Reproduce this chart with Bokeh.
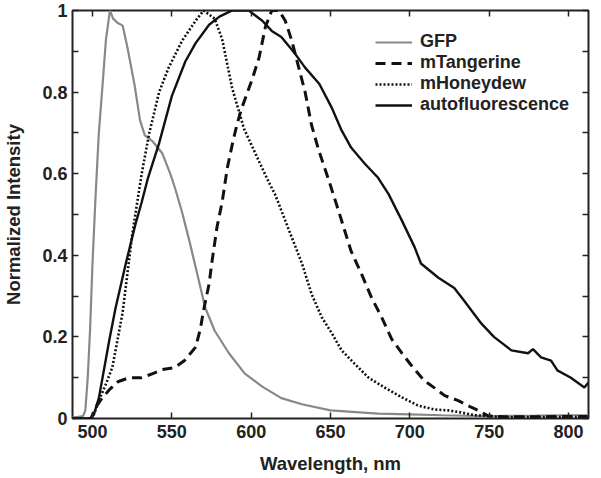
from bokeh.plotting import figure
from bokeh.models import (FixedTicker, CustomJSTickFormatter, LinearAxis, Legend,
                          LegendItem, Range1d)
from bokeh.embed import file_html
from bokeh.resources import INLINE

# ---------------- data ----------------
wl_gfp = [487, 491, 494, 495.5, 497, 498.5, 500, 502, 504, 506, 508.5, 511, 513,
          515.7, 519, 522, 526.4, 530, 533, 537.7, 544, 549, 552, 556.5, 561, 566,
          571, 577, 586, 596, 607, 619, 632, 650, 680, 700, 720, 750, 780, 800, 812]
gfp = [0.003, 0.004, 0.006, 0.02, 0.1, 0.22, 0.38, 0.55, 0.70, 0.80, 0.93, 1.0, 0.98,
       0.97, 0.963, 0.91, 0.82, 0.73, 0.694, 0.68, 0.65, 0.60, 0.565, 0.505, 0.436,
       0.355, 0.272, 0.215, 0.16, 0.11, 0.078, 0.05, 0.035, 0.02, 0.012, 0.01,
       0.008, 0.006, 0.007, 0.008, 0.008]

wl_tan = [487, 499, 502, 506, 510.5, 516, 523, 531, 538, 544, 552, 558, 565, 568, 570,
          573.5, 575.4, 578.5, 581.7, 585, 588, 591, 594, 600.5, 605, 609, 613, 617.5,
          621.5, 625.6, 630, 634, 638, 642.6, 649, 655, 663, 670, 676, 682, 688.5, 695,
          701, 709, 715.5, 722, 730.5, 739, 743, 749, 760, 780, 800, 812]
tangerine = [0, 0, 0.027, 0.05, 0.07, 0.09, 0.10, 0.10, 0.11, 0.12, 0.125, 0.142,
             0.175, 0.22, 0.265, 0.33, 0.387, 0.47, 0.53, 0.615, 0.67, 0.72, 0.76, 0.83,
             0.885, 0.96, 1.0, 1.0, 0.975, 0.926, 0.86, 0.80, 0.72, 0.657, 0.583, 0.51,
             0.41, 0.35, 0.295, 0.25, 0.195, 0.16, 0.13, 0.093, 0.075, 0.056, 0.044,
             0.027, 0.02, 0.007, 0.004, 0.004, 0.005, 0.005]

wl_hon = [487, 500, 504, 508, 512.5, 519, 525, 531, 535.8, 542, 548, 556.5, 565, 570,
          577, 581.7, 588, 595.5, 605, 611, 615, 624, 632, 638, 644.5, 651, 657, 665,
          674, 684, 695, 705, 715.5, 724, 732, 741, 760, 800, 812]
honeydew = [0, 0, 0.044, 0.08, 0.125, 0.26, 0.45, 0.60, 0.70, 0.80, 0.86, 0.926, 0.975,
            1.0, 0.98, 0.93, 0.81, 0.71, 0.63, 0.58, 0.55, 0.46, 0.38, 0.306, 0.248,
            0.208, 0.167, 0.135, 0.10, 0.076, 0.052, 0.032, 0.022, 0.02, 0.015, 0.008,
            0.003, 0.004, 0.004]

wl_auto = [487, 499, 501, 504, 510.5, 514.5, 521, 527, 531, 535, 542, 550, 558.5, 565,
           573.5, 580, 588, 598.5, 607, 613, 619, 627.5, 634, 643, 651, 657, 663, 671.5,
           680, 686.6, 695, 703, 707, 718, 728, 734, 745, 753, 764, 774.5, 777.6, 782.7,
           789, 793, 801.5, 810, 812.6]
autofl = [0, 0, 0.012, 0.05, 0.19, 0.27, 0.38, 0.475, 0.53, 0.59, 0.675, 0.79, 0.875,
          0.92, 0.965, 0.985, 1.0, 1.0, 0.975, 0.95, 0.935, 0.895, 0.86, 0.82, 0.76,
          0.706, 0.664, 0.625, 0.59, 0.55, 0.485, 0.42, 0.38, 0.345, 0.32, 0.29, 0.233,
          0.2, 0.167, 0.16, 0.17, 0.15, 0.142, 0.118, 0.10, 0.076, 0.088]

x_ticks = [500, 550, 600, 650, 700, 750, 800]
y_ticks = [0, 0.2, 0.4, 0.6, 0.8, 1.0]
y_minor = [0.1, 0.3, 0.5, 0.7, 0.9]
labels = ["GFP", "mTangerine", "mHoneydew", "autofluorescence"]

# ---------------- figure ----------------
FONT = "Liberation Sans"
TXT = "#222222"
p = figure(width=593, height=478, output_backend="svg", toolbar_location=None,
           x_range=Range1d(487.4, 812.6), y_range=Range1d(0, 1.0),
           min_border_left=70, min_border_right=5, min_border_top=10,
           min_border_bottom=60, x_axis_label="Wavelength, nm",
           y_axis_label="Normalized Intensity")
p.grid.visible = False
p.background_fill_color = "white"
p.border_fill_color = "white"
p.outline_line_color = "#222222"
p.outline_line_width = 2

fmt = CustomJSTickFormatter(code="return tick.toFixed(1).replace(/\\.0$/, '');")
blank = CustomJSTickFormatter(code="return '';")

for ax in p.xaxis:
    ax.ticker = FixedTicker(ticks=x_ticks)
for ax in p.yaxis:
    ax.ticker = FixedTicker(ticks=y_ticks, minor_ticks=y_minor)
    ax.formatter = fmt

for ax in list(p.xaxis) + list(p.yaxis):
    ax.axis_line_color = None
    ax.major_tick_in = 6
    ax.major_tick_out = 0
    ax.minor_tick_in = 6
    ax.minor_tick_out = 0
    ax.major_tick_line_color = "#222222"
    ax.major_tick_line_width = 1.5
    ax.minor_tick_line_color = "#222222"
    ax.minor_tick_line_width = 1.5
    ax.major_label_text_font = FONT
    ax.major_label_text_font_style = "bold"
    ax.major_label_text_font_size = "18px"
    ax.major_label_text_color = TXT
    ax.axis_label_text_font = FONT
    ax.axis_label_text_font_style = "bold"
    ax.axis_label_text_font_size = "18.5px"
    ax.axis_label_text_color = TXT
p.xaxis.minor_tick_line_color = None
p.xaxis.major_label_standoff = 6
p.xaxis.axis_label_standoff = 12
p.yaxis.major_label_standoff = 5
p.yaxis.axis_label_standoff = 15

# mirrored ticks on top and right
top = LinearAxis(ticker=FixedTicker(ticks=x_ticks), formatter=blank,
                 axis_line_color=None, major_tick_in=6, major_tick_out=0,
                 minor_tick_line_color=None,
                 major_tick_line_color="#222222", major_tick_line_width=1.5,
                 major_label_standoff=0)
right = LinearAxis(ticker=FixedTicker(ticks=y_ticks, minor_ticks=y_minor),
                   formatter=blank, axis_line_color=None, major_tick_in=6,
                   major_tick_out=0, minor_tick_in=6, minor_tick_out=0,
                   major_tick_line_color="#222222", major_tick_line_width=1.5,
                   minor_tick_line_color="#222222", minor_tick_line_width=1.5,
                   major_label_standoff=0)
p.add_layout(top, "above")
p.add_layout(right, "right")

r_gfp = p.line(wl_gfp, gfp, line_color="#888888", line_width=2.2)
r_tan = p.line(wl_tan, tangerine, line_color="#111111", line_width=3,
               line_dash="10 6")
r_hon = p.line(wl_hon, honeydew, line_color="#111111", line_width=2.6,
               line_dash="2 2")
r_auto = p.line(wl_auto, autofl, line_color="#111111", line_width=2.4)

legend = Legend(items=[LegendItem(label=labels[0], renderers=[r_gfp]),
                       LegendItem(label=labels[1], renderers=[r_tan]),
                       LegendItem(label=labels[2], renderers=[r_hon]),
                       LegendItem(label=labels[3], renderers=[r_auto])],
                location=(303, 303), padding=0, margin=0, spacing=0,
                glyph_width=37, glyph_height=20, label_height=20,
                label_standoff=8, border_line_color=None,
                background_fill_alpha=0,
                label_text_font=FONT, label_text_font_style="bold",
                label_text_font_size="18px", label_text_color=TXT)
p.add_layout(legend, "center")

open("out.html", "w").write(file_html(p, INLINE))
